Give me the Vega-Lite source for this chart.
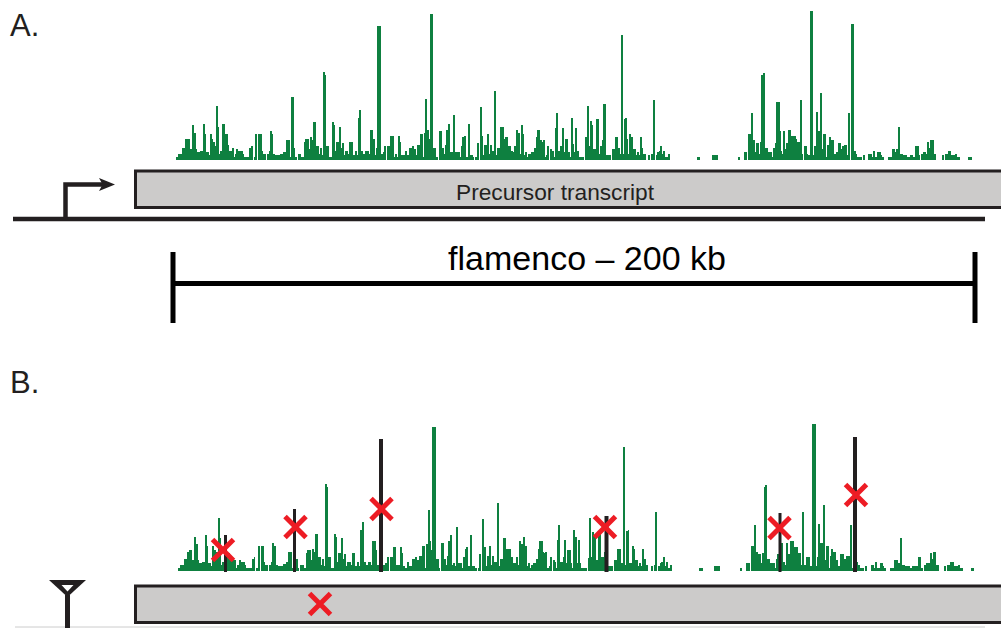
{"$schema":"https://vega.github.io/schema/vega-lite/v6.json","padding":0,"spacing":0,"background":"white","config":{"view":{"stroke":null},"concat":{"spacing":0}},
"datasets":{
"trackA":[{"a":176,"b":178,"s":3},{"a":178,"b":182,"s":6},{"a":182,"b":185,"s":12},{"a":185,"b":190,"s":21},{"a":190,"b":192,"s":11},{"a":192,"b":194,"s":35},{"a":194,"b":196,"s":27},{"a":196,"b":197,"s":11},{"a":197,"b":200,"s":8},{"a":200,"b":203,"s":9},{"a":203,"b":205,"s":36},{"a":205,"b":206,"s":26},{"a":206,"b":209,"s":8},{"a":209,"b":210,"s":5},{"a":210,"b":212,"s":26},{"a":212,"b":213,"s":21},{"a":213,"b":215,"s":18},{"a":215,"b":216,"s":14},{"a":216,"b":218,"s":54},{"a":218,"b":219,"s":33},{"a":219,"b":220,"s":6},{"a":220,"b":222,"s":9},{"a":222,"b":225,"s":36},{"a":225,"b":228,"s":26},{"a":228,"b":229,"s":15},{"a":229,"b":232,"s":9},{"a":232,"b":234,"s":12},{"a":234,"b":235,"s":3},{"a":235,"b":236,"s":6},{"a":236,"b":238,"s":11},{"a":238,"b":243,"s":9},{"a":243,"b":244,"s":6},{"a":244,"b":249,"s":3},{"a":249,"b":251,"s":12},{"a":251,"b":253,"s":14},{"a":254,"b":255,"s":3},{"a":255,"b":257,"s":26},{"a":258,"b":262,"s":26},{"a":262,"b":263,"s":9},{"a":263,"b":266,"s":6},{"a":267,"b":269,"s":6},{"a":269,"b":270,"s":9},{"a":270,"b":272,"s":29},{"a":272,"b":273,"s":26},{"a":273,"b":275,"s":6},{"a":275,"b":280,"s":5},{"a":280,"b":283,"s":6},{"a":283,"b":286,"s":8},{"a":286,"b":290,"s":20},{"a":290,"b":291,"s":3},{"a":291,"b":294,"s":63},{"a":294,"b":295,"s":12},{"a":295,"b":297,"s":3},{"a":298,"b":301,"s":6},{"a":301,"b":304,"s":3},{"a":304,"b":305,"s":18},{"a":305,"b":309,"s":21},{"a":309,"b":310,"s":11},{"a":310,"b":312,"s":23},{"a":312,"b":313,"s":20},{"a":313,"b":316,"s":38},{"a":316,"b":319,"s":14},{"a":319,"b":320,"s":6},{"a":320,"b":322,"s":12},{"a":322,"b":323,"s":5},{"a":323,"b":325,"s":88},{"a":325,"b":326,"s":85},{"a":326,"b":329,"s":14},{"a":329,"b":332,"s":3},{"a":332,"b":334,"s":38},{"a":334,"b":335,"s":35},{"a":335,"b":336,"s":9},{"a":336,"b":339,"s":18},{"a":339,"b":341,"s":33},{"a":341,"b":342,"s":12},{"a":342,"b":344,"s":17},{"a":344,"b":345,"s":5},{"a":345,"b":348,"s":9},{"a":348,"b":349,"s":6},{"a":349,"b":353,"s":18},{"a":353,"b":355,"s":5},{"a":355,"b":357,"s":9},{"a":357,"b":358,"s":5},{"a":358,"b":359,"s":42},{"a":359,"b":361,"s":50},{"a":361,"b":363,"s":9},{"a":363,"b":365,"s":6},{"a":365,"b":369,"s":9},{"a":369,"b":370,"s":6},{"a":370,"b":373,"s":30},{"a":373,"b":375,"s":21},{"a":375,"b":376,"s":5},{"a":376,"b":377,"s":12},{"a":377,"b":381,"s":134},{"a":381,"b":383,"s":6},{"a":383,"b":384,"s":8},{"a":384,"b":386,"s":14},{"a":387,"b":390,"s":14},{"a":390,"b":394,"s":24},{"a":394,"b":395,"s":3},{"a":395,"b":397,"s":6},{"a":397,"b":398,"s":3},{"a":398,"b":400,"s":24},{"a":400,"b":401,"s":18},{"a":401,"b":405,"s":5},{"a":405,"b":407,"s":9},{"a":407,"b":409,"s":5},{"a":409,"b":412,"s":12},{"a":412,"b":414,"s":14},{"a":414,"b":416,"s":11},{"a":416,"b":417,"s":5},{"a":417,"b":420,"s":15},{"a":420,"b":423,"s":26},{"a":423,"b":424,"s":3},{"a":424,"b":425,"s":27},{"a":425,"b":427,"s":61},{"a":427,"b":429,"s":30},{"a":429,"b":430,"s":21},{"a":430,"b":433,"s":146},{"a":433,"b":436,"s":12},{"a":436,"b":438,"s":3},{"a":439,"b":442,"s":29},{"a":442,"b":444,"s":12},{"a":444,"b":445,"s":6},{"a":445,"b":446,"s":15},{"a":446,"b":448,"s":30},{"a":448,"b":450,"s":36},{"a":450,"b":453,"s":8},{"a":453,"b":455,"s":45},{"a":455,"b":460,"s":8},{"a":460,"b":461,"s":3},{"a":461,"b":462,"s":14},{"a":462,"b":464,"s":23},{"a":464,"b":466,"s":24},{"a":466,"b":468,"s":3},{"a":468,"b":470,"s":36},{"a":470,"b":473,"s":5},{"a":473,"b":474,"s":3},{"a":475,"b":477,"s":3},{"a":477,"b":479,"s":17},{"a":480,"b":482,"s":53},{"a":482,"b":483,"s":24},{"a":483,"b":484,"s":5},{"a":484,"b":487,"s":15},{"a":487,"b":489,"s":26},{"a":489,"b":490,"s":6},{"a":490,"b":492,"s":15},{"a":492,"b":494,"s":9},{"a":494,"b":496,"s":69},{"a":496,"b":497,"s":5},{"a":497,"b":500,"s":12},{"a":500,"b":504,"s":33},{"a":504,"b":505,"s":21},{"a":505,"b":508,"s":23},{"a":508,"b":511,"s":14},{"a":511,"b":513,"s":9},{"a":513,"b":514,"s":8},{"a":514,"b":516,"s":14},{"a":516,"b":518,"s":30},{"a":518,"b":520,"s":27},{"a":520,"b":521,"s":6},{"a":521,"b":523,"s":35},{"a":523,"b":524,"s":26},{"a":524,"b":525,"s":5},{"a":525,"b":527,"s":8},{"a":527,"b":528,"s":3},{"a":528,"b":531,"s":6},{"a":531,"b":534,"s":8},{"a":534,"b":536,"s":12},{"a":536,"b":537,"s":23},{"a":537,"b":540,"s":30},{"a":540,"b":542,"s":20},{"a":542,"b":543,"s":18},{"a":543,"b":545,"s":20},{"a":545,"b":546,"s":3},{"a":546,"b":547,"s":5},{"a":547,"b":549,"s":14},{"a":550,"b":552,"s":11},{"a":552,"b":554,"s":9},{"a":554,"b":555,"s":3},{"a":555,"b":556,"s":32},{"a":556,"b":558,"s":47},{"a":558,"b":560,"s":9},{"a":560,"b":562,"s":14},{"a":562,"b":564,"s":32},{"a":564,"b":565,"s":8},{"a":565,"b":568,"s":21},{"a":568,"b":570,"s":8},{"a":570,"b":571,"s":3},{"a":571,"b":573,"s":42},{"a":573,"b":574,"s":16},{"a":574,"b":575,"s":8},{"a":575,"b":577,"s":32},{"a":577,"b":579,"s":9},{"a":579,"b":584,"s":3},{"a":585,"b":587,"s":23},{"a":587,"b":589,"s":54},{"a":589,"b":590,"s":14},{"a":590,"b":592,"s":39},{"a":592,"b":593,"s":35},{"a":593,"b":596,"s":11},{"a":596,"b":599,"s":41},{"a":599,"b":600,"s":6},{"a":600,"b":602,"s":14},{"a":602,"b":603,"s":20},{"a":603,"b":606,"s":56},{"a":606,"b":611,"s":5},{"a":612,"b":615,"s":11},{"a":615,"b":618,"s":23},{"a":618,"b":620,"s":12},{"a":620,"b":621,"s":6},{"a":621,"b":623,"s":125},{"a":623,"b":624,"s":6},{"a":624,"b":625,"s":41},{"a":625,"b":627,"s":42},{"a":627,"b":628,"s":21},{"a":628,"b":629,"s":6},{"a":629,"b":631,"s":26},{"a":631,"b":633,"s":23},{"a":633,"b":636,"s":11},{"a":636,"b":637,"s":5},{"a":637,"b":639,"s":8},{"a":639,"b":640,"s":5},{"a":640,"b":642,"s":23},{"a":642,"b":643,"s":12},{"a":643,"b":646,"s":6},{"a":648,"b":650,"s":5},{"a":651,"b":653,"s":6},{"a":653,"b":655,"s":60},{"a":656,"b":657,"s":5},{"a":657,"b":659,"s":8},{"a":659,"b":660,"s":9},{"a":660,"b":662,"s":14},{"a":662,"b":663,"s":6},{"a":663,"b":665,"s":9},{"a":665,"b":668,"s":3},{"a":668,"b":670,"s":6},{"a":697,"b":700,"s":3},{"a":712,"b":718,"s":5},{"a":738,"b":740,"s":3},{"a":744,"b":747,"s":8},{"a":748,"b":751,"s":26},{"a":751,"b":753,"s":47},{"a":753,"b":755,"s":20},{"a":755,"b":756,"s":8},{"a":756,"b":759,"s":17},{"a":759,"b":760,"s":6},{"a":760,"b":761,"s":18},{"a":761,"b":763,"s":85},{"a":763,"b":765,"s":87},{"a":765,"b":768,"s":12},{"a":768,"b":772,"s":8},{"a":772,"b":773,"s":3},{"a":773,"b":775,"s":12},{"a":775,"b":776,"s":17},{"a":776,"b":780,"s":58},{"a":780,"b":781,"s":29},{"a":781,"b":782,"s":9},{"a":782,"b":783,"s":6},{"a":783,"b":785,"s":29},{"a":785,"b":786,"s":11},{"a":786,"b":788,"s":17},{"a":788,"b":791,"s":30},{"a":791,"b":796,"s":24},{"a":796,"b":797,"s":21},{"a":797,"b":800,"s":18},{"a":800,"b":802,"s":60},{"a":802,"b":803,"s":6},{"a":804,"b":807,"s":14},{"a":807,"b":808,"s":6},{"a":808,"b":810,"s":5},{"a":810,"b":813,"s":149},{"a":813,"b":814,"s":5},{"a":814,"b":816,"s":14},{"a":816,"b":818,"s":48},{"a":818,"b":820,"s":29},{"a":820,"b":822,"s":67},{"a":822,"b":823,"s":11},{"a":823,"b":826,"s":26},{"a":826,"b":827,"s":3},{"a":827,"b":829,"s":15},{"a":829,"b":831,"s":23},{"a":831,"b":834,"s":20},{"a":834,"b":836,"s":6},{"a":836,"b":838,"s":8},{"a":838,"b":841,"s":17},{"a":841,"b":842,"s":11},{"a":842,"b":844,"s":14},{"a":844,"b":847,"s":15},{"a":847,"b":848,"s":5},{"a":848,"b":850,"s":47},{"a":851,"b":854,"s":136},{"a":854,"b":856,"s":9},{"a":856,"b":857,"s":6},{"a":857,"b":862,"s":3},{"a":863,"b":865,"s":5},{"a":868,"b":872,"s":6},{"a":872,"b":873,"s":3},{"a":873,"b":875,"s":9},{"a":875,"b":877,"s":3},{"a":877,"b":881,"s":8},{"a":881,"b":882,"s":5},{"a":882,"b":884,"s":3},{"a":888,"b":892,"s":3},{"a":892,"b":895,"s":11},{"a":895,"b":896,"s":8},{"a":896,"b":898,"s":11},{"a":898,"b":900,"s":33},{"a":900,"b":903,"s":6},{"a":903,"b":907,"s":5},{"a":907,"b":910,"s":3},{"a":910,"b":913,"s":5},{"a":913,"b":915,"s":3},{"a":915,"b":919,"s":14},{"a":919,"b":920,"s":5},{"a":921,"b":923,"s":6},{"a":923,"b":926,"s":8},{"a":926,"b":927,"s":6},{"a":927,"b":929,"s":18},{"a":929,"b":930,"s":12},{"a":930,"b":934,"s":20},{"a":934,"b":936,"s":6},{"a":942,"b":944,"s":5},{"a":945,"b":948,"s":6},{"a":948,"b":951,"s":9},{"a":951,"b":955,"s":5},{"a":955,"b":957,"s":6},{"a":957,"b":960,"s":3},{"a":968,"b":972,"s":3}],
"trackB":[{"a":178,"b":180,"s":3},{"a":180,"b":184,"s":6},{"a":184,"b":187,"s":12},{"a":187,"b":189,"s":19},{"a":189,"b":192,"s":21},{"a":192,"b":194,"s":11},{"a":194,"b":196,"s":34},{"a":196,"b":198,"s":27},{"a":198,"b":199,"s":11},{"a":199,"b":202,"s":8},{"a":202,"b":205,"s":9},{"a":205,"b":207,"s":36},{"a":207,"b":208,"s":25},{"a":208,"b":211,"s":8},{"a":211,"b":212,"s":5},{"a":212,"b":214,"s":25},{"a":214,"b":216,"s":21},{"a":216,"b":218,"s":19},{"a":218,"b":220,"s":53},{"a":220,"b":221,"s":33},{"a":221,"b":222,"s":6},{"a":222,"b":224,"s":9},{"a":224,"b":227,"s":30},{"a":227,"b":230,"s":18},{"a":230,"b":232,"s":12},{"a":232,"b":236,"s":11},{"a":236,"b":237,"s":3},{"a":237,"b":239,"s":6},{"a":239,"b":241,"s":11},{"a":241,"b":245,"s":9},{"a":245,"b":246,"s":6},{"a":246,"b":252,"s":3},{"a":252,"b":254,"s":12},{"a":254,"b":255,"s":14},{"a":256,"b":258,"s":3},{"a":258,"b":260,"s":25},{"a":261,"b":264,"s":25},{"a":264,"b":265,"s":9},{"a":265,"b":268,"s":6},{"a":269,"b":271,"s":6},{"a":271,"b":272,"s":9},{"a":272,"b":274,"s":28},{"a":274,"b":276,"s":25},{"a":276,"b":278,"s":6},{"a":278,"b":283,"s":5},{"a":283,"b":286,"s":7},{"a":286,"b":288,"s":9},{"a":288,"b":292,"s":19},{"a":292,"b":293,"s":3},{"a":293,"b":296,"s":60},{"a":296,"b":298,"s":12},{"a":298,"b":299,"s":3},{"a":300,"b":304,"s":6},{"a":304,"b":306,"s":3},{"a":306,"b":307,"s":18},{"a":307,"b":311,"s":21},{"a":311,"b":312,"s":11},{"a":312,"b":314,"s":22},{"a":314,"b":315,"s":19},{"a":315,"b":318,"s":37},{"a":318,"b":321,"s":14},{"a":321,"b":322,"s":6},{"a":322,"b":324,"s":12},{"a":324,"b":325,"s":5},{"a":325,"b":327,"s":87},{"a":327,"b":328,"s":84},{"a":328,"b":331,"s":14},{"a":331,"b":334,"s":3},{"a":334,"b":336,"s":37},{"a":336,"b":337,"s":34},{"a":337,"b":338,"s":9},{"a":338,"b":341,"s":18},{"a":341,"b":343,"s":33},{"a":343,"b":344,"s":12},{"a":344,"b":346,"s":17},{"a":346,"b":347,"s":5},{"a":347,"b":351,"s":9},{"a":351,"b":352,"s":6},{"a":352,"b":355,"s":18},{"a":355,"b":357,"s":5},{"a":357,"b":359,"s":9},{"a":359,"b":360,"s":5},{"a":360,"b":362,"s":41},{"a":362,"b":364,"s":49},{"a":364,"b":366,"s":9},{"a":366,"b":368,"s":6},{"a":368,"b":371,"s":9},{"a":371,"b":372,"s":6},{"a":372,"b":376,"s":30},{"a":376,"b":377,"s":21},{"a":377,"b":379,"s":6},{"a":379,"b":383,"s":12},{"a":383,"b":385,"s":6},{"a":385,"b":387,"s":8},{"a":387,"b":389,"s":14},{"a":390,"b":393,"s":14},{"a":393,"b":396,"s":24},{"a":396,"b":400,"s":6},{"a":400,"b":402,"s":24},{"a":402,"b":403,"s":18},{"a":403,"b":405,"s":5},{"a":405,"b":407,"s":3},{"a":407,"b":409,"s":9},{"a":409,"b":412,"s":5},{"a":412,"b":415,"s":12},{"a":415,"b":417,"s":14},{"a":417,"b":419,"s":11},{"a":419,"b":422,"s":15},{"a":422,"b":425,"s":25},{"a":425,"b":426,"s":3},{"a":426,"b":428,"s":27},{"a":428,"b":430,"s":61},{"a":430,"b":431,"s":30},{"a":431,"b":432,"s":21},{"a":432,"b":436,"s":144},{"a":436,"b":439,"s":12},{"a":439,"b":440,"s":3},{"a":441,"b":444,"s":28},{"a":444,"b":446,"s":12},{"a":446,"b":447,"s":6},{"a":447,"b":448,"s":15},{"a":448,"b":450,"s":30},{"a":450,"b":452,"s":36},{"a":452,"b":453,"s":6},{"a":453,"b":455,"s":8},{"a":455,"b":456,"s":5},{"a":456,"b":458,"s":44},{"a":458,"b":462,"s":8},{"a":462,"b":463,"s":3},{"a":463,"b":465,"s":14},{"a":465,"b":466,"s":22},{"a":466,"b":468,"s":24},{"a":468,"b":470,"s":5},{"a":470,"b":472,"s":36},{"a":472,"b":475,"s":5},{"a":475,"b":477,"s":3},{"a":478,"b":479,"s":3},{"a":479,"b":481,"s":17},{"a":482,"b":484,"s":52},{"a":484,"b":486,"s":24},{"a":486,"b":487,"s":5},{"a":487,"b":489,"s":15},{"a":489,"b":491,"s":25},{"a":491,"b":492,"s":6},{"a":492,"b":494,"s":15},{"a":494,"b":497,"s":9},{"a":497,"b":499,"s":68},{"a":499,"b":500,"s":5},{"a":500,"b":503,"s":12},{"a":503,"b":506,"s":33},{"a":506,"b":511,"s":22},{"a":511,"b":513,"s":14},{"a":513,"b":516,"s":8},{"a":516,"b":518,"s":14},{"a":518,"b":519,"s":6},{"a":519,"b":521,"s":30},{"a":521,"b":523,"s":27},{"a":523,"b":525,"s":34},{"a":525,"b":527,"s":25},{"a":527,"b":528,"s":5},{"a":528,"b":530,"s":8},{"a":530,"b":531,"s":3},{"a":531,"b":533,"s":6},{"a":533,"b":536,"s":8},{"a":536,"b":538,"s":12},{"a":538,"b":539,"s":22},{"a":539,"b":543,"s":30},{"a":543,"b":544,"s":19},{"a":544,"b":545,"s":18},{"a":545,"b":547,"s":19},{"a":547,"b":549,"s":3},{"a":549,"b":550,"s":5},{"a":550,"b":552,"s":14},{"a":553,"b":555,"s":11},{"a":555,"b":556,"s":9},{"a":556,"b":557,"s":3},{"a":557,"b":558,"s":31},{"a":558,"b":560,"s":46},{"a":560,"b":563,"s":9},{"a":563,"b":564,"s":14},{"a":564,"b":566,"s":31},{"a":566,"b":567,"s":8},{"a":567,"b":571,"s":21},{"a":571,"b":572,"s":8},{"a":572,"b":573,"s":3},{"a":573,"b":575,"s":41},{"a":575,"b":577,"s":34},{"a":577,"b":578,"s":8},{"a":578,"b":580,"s":31},{"a":580,"b":581,"s":8},{"a":581,"b":587,"s":3},{"a":588,"b":589,"s":13},{"a":589,"b":591,"s":53},{"a":591,"b":592,"s":14},{"a":592,"b":594,"s":39},{"a":594,"b":596,"s":34},{"a":596,"b":598,"s":11},{"a":598,"b":601,"s":39},{"a":601,"b":604,"s":14},{"a":604,"b":605,"s":19},{"a":605,"b":613,"s":5},{"a":614,"b":617,"s":11},{"a":617,"b":621,"s":22},{"a":621,"b":623,"s":8},{"a":623,"b":625,"s":124},{"a":625,"b":626,"s":6},{"a":626,"b":628,"s":40},{"a":628,"b":629,"s":41},{"a":629,"b":632,"s":8},{"a":632,"b":634,"s":25},{"a":634,"b":635,"s":22},{"a":635,"b":638,"s":11},{"a":638,"b":639,"s":5},{"a":639,"b":641,"s":8},{"a":641,"b":642,"s":5},{"a":642,"b":644,"s":22},{"a":644,"b":646,"s":12},{"a":646,"b":648,"s":6},{"a":651,"b":653,"s":5},{"a":654,"b":655,"s":6},{"a":655,"b":657,"s":59},{"a":658,"b":660,"s":5},{"a":660,"b":661,"s":8},{"a":661,"b":663,"s":9},{"a":663,"b":665,"s":14},{"a":665,"b":666,"s":5},{"a":666,"b":668,"s":9},{"a":668,"b":670,"s":3},{"a":670,"b":672,"s":6},{"a":699,"b":703,"s":3},{"a":714,"b":720,"s":5},{"a":740,"b":742,"s":3},{"a":746,"b":750,"s":8},{"a":751,"b":754,"s":25},{"a":754,"b":756,"s":46},{"a":756,"b":758,"s":19},{"a":758,"b":761,"s":17},{"a":761,"b":762,"s":8},{"a":762,"b":764,"s":18},{"a":764,"b":765,"s":84},{"a":765,"b":767,"s":86},{"a":767,"b":770,"s":12},{"a":770,"b":775,"s":8},{"a":775,"b":776,"s":3},{"a":776,"b":777,"s":12},{"a":777,"b":781,"s":17},{"a":781,"b":783,"s":28},{"a":783,"b":785,"s":9},{"a":785,"b":786,"s":6},{"a":786,"b":788,"s":28},{"a":788,"b":790,"s":17},{"a":790,"b":794,"s":30},{"a":794,"b":798,"s":24},{"a":798,"b":801,"s":18},{"a":801,"b":802,"s":6},{"a":802,"b":804,"s":59},{"a":804,"b":806,"s":6},{"a":806,"b":810,"s":14},{"a":810,"b":812,"s":5},{"a":812,"b":816,"s":147},{"a":816,"b":817,"s":5},{"a":817,"b":818,"s":14},{"a":818,"b":820,"s":47},{"a":820,"b":823,"s":28},{"a":823,"b":825,"s":66},{"a":825,"b":826,"s":11},{"a":826,"b":829,"s":25},{"a":829,"b":830,"s":3},{"a":830,"b":831,"s":15},{"a":831,"b":833,"s":22},{"a":833,"b":836,"s":19},{"a":836,"b":838,"s":11},{"a":838,"b":840,"s":5},{"a":840,"b":844,"s":17},{"a":844,"b":846,"s":12},{"a":846,"b":850,"s":15},{"a":850,"b":852,"s":46},{"a":852,"b":853,"s":3},{"a":853,"b":856,"s":5},{"a":856,"b":858,"s":9},{"a":858,"b":860,"s":6},{"a":860,"b":864,"s":3},{"a":865,"b":867,"s":5},{"a":871,"b":874,"s":6},{"a":874,"b":875,"s":3},{"a":875,"b":877,"s":9},{"a":877,"b":880,"s":3},{"a":880,"b":883,"s":8},{"a":883,"b":884,"s":5},{"a":884,"b":886,"s":3},{"a":890,"b":894,"s":3},{"a":894,"b":898,"s":11},{"a":898,"b":900,"s":8},{"a":900,"b":902,"s":33},{"a":902,"b":905,"s":6},{"a":905,"b":910,"s":5},{"a":910,"b":912,"s":3},{"a":912,"b":918,"s":5},{"a":918,"b":921,"s":14},{"a":921,"b":923,"s":3},{"a":924,"b":926,"s":6},{"a":926,"b":930,"s":8},{"a":930,"b":932,"s":18},{"a":932,"b":933,"s":12},{"a":933,"b":936,"s":19},{"a":936,"b":939,"s":6},{"a":944,"b":946,"s":5},{"a":947,"b":950,"s":6},{"a":950,"b":954,"s":9},{"a":954,"b":958,"s":5},{"a":958,"b":960,"s":6},{"a":960,"b":963,"s":3},{"a":971,"b":974,"s":3}]
},
"vconcat":[
{"width":1001,"height":340,"layer":[
{"data":{"name":"trackA"},"mark":{"type":"rect","fill":"#0e8040"},"encoding":{"x":{"field":"a","type":"quantitative","scale":{"domain":[0,1001],"nice":false,"zero":false},"axis":null},"x2":{"field":"b"},"y":{"field":"s","type":"quantitative","scale":{"domain":[-180,160],"nice":false,"zero":false},"axis":null},"y2":{"datum":0}}},
{"data":{"values":[{"a":135.5,"b":1003,"top":-11,"bot":-47.5}]},"mark":{"type":"rect","fill":"#cccbca","stroke":"#231f20","strokeWidth":3},"encoding":{"x":{"field":"a","type":"quantitative"},"x2":{"field":"b"},"y":{"field":"top","type":"quantitative"},"y2":{"field":"bot"}}},
{"data":{"values":[{"id":"dna","o":1,"x":13,"v":-59},{"id":"dna","o":2,"x":985,"v":-59},{"id":"tss","o":1,"x":65.5,"v":-59},{"id":"tss","o":2,"x":65.5,"v":-24.5},{"id":"tss","o":3,"x":103,"v":-24.5}]},"mark":{"type":"line","stroke":"#231f20","strokeWidth":4.5,"strokeCap":"butt","strokeJoin":"miter"},"encoding":{"x":{"field":"x","type":"quantitative"},"y":{"field":"v","type":"quantitative"},"detail":{"field":"id"},"order":{"field":"o"}}},
{"data":{"values":[{"x":107,"v":-24.5}]},"mark":{"type":"point","shape":"M-1,-0.82L1,0L-1,0.82L-0.55,0Z","size":256,"filled":true,"fill":"#231f20","stroke":null,"opacity":1},"encoding":{"x":{"field":"x","type":"quantitative"},"y":{"field":"v","type":"quantitative"}}},
{"data":{"values":[{"id":"span","o":1,"x":173,"v":-123.5},{"id":"span","o":2,"x":975,"v":-123.5},{"id":"start","o":1,"x":173,"v":-92},{"id":"start","o":2,"x":173,"v":-163},{"id":"end","o":1,"x":975,"v":-92},{"id":"end","o":2,"x":975,"v":-163}]},"mark":{"type":"line","stroke":"#000000","strokeWidth":5,"strokeCap":"butt"},"encoding":{"x":{"field":"x","type":"quantitative"},"y":{"field":"v","type":"quantitative"},"detail":{"field":"id"},"order":{"field":"o"}}},
{"data":{"values":[{"x":10,"v":124,"t":"A."}]},"mark":{"type":"text","align":"left","baseline":"alphabetic","font":"Liberation Sans","fontSize":31,"fill":"#231f20"},"encoding":{"x":{"field":"x","type":"quantitative"},"y":{"field":"v","type":"quantitative"},"text":{"field":"t"}}},
{"data":{"values":[{"x":555,"v":-39.5,"t":"Precursor transcript"}]},"mark":{"type":"text","align":"center","baseline":"alphabetic","font":"Liberation Sans","fontSize":22.7,"fill":"#231f20"},"encoding":{"x":{"field":"x","type":"quantitative"},"y":{"field":"v","type":"quantitative"},"text":{"field":"t"}}},
{"data":{"values":[{"x":587,"v":-110,"t":"flamenco – 200 kb"}]},"mark":{"type":"text","align":"center","baseline":"alphabetic","font":"Liberation Sans","fontSize":34,"fill":"#000000"},"encoding":{"x":{"field":"x","type":"quantitative"},"y":{"field":"v","type":"quantitative"},"text":{"field":"t"}}}
]},
{"width":1001,"height":288,"layer":[
{"data":{"name":"trackB"},"mark":{"type":"rect","fill":"#0e8040"},"encoding":{"x":{"field":"a","type":"quantitative","scale":{"domain":[0,1001],"nice":false,"zero":false},"axis":null},"x2":{"field":"b"},"y":{"field":"s","type":"quantitative","scale":{"domain":[-57,231],"nice":false,"zero":false},"axis":null},"y2":{"datum":0}}},
{"data":{"values":[{"x":225.5,"s":36},{"x":294.5,"s":62},{"x":780,"s":58}]},"mark":{"type":"rule","stroke":"#231f20","strokeWidth":3},"encoding":{"x":{"field":"x","type":"quantitative"},"y":{"field":"s","type":"quantitative"},"y2":{"datum":-1}}},
{"data":{"values":[{"x":381,"s":132},{"x":606.5,"s":55},{"x":855,"s":134}]},"mark":{"type":"rule","stroke":"#231f20","strokeWidth":4},"encoding":{"x":{"field":"x","type":"quantitative"},"y":{"field":"s","type":"quantitative"},"y2":{"datum":-1}}},
{"data":{"values":[{"x1":15,"x2":985,"v":-56}]},"mark":{"type":"rule","stroke":"#cccccc","strokeWidth":1},"encoding":{"x":{"field":"x1","type":"quantitative"},"x2":{"field":"x2"},"y":{"field":"v","type":"quantitative"}}},
{"data":{"values":[{"a":135.5,"b":1003,"top":-15,"bot":-51.5}]},"mark":{"type":"rect","fill":"#cccbca","stroke":"#231f20","strokeWidth":3},"encoding":{"x":{"field":"a","type":"quantitative"},"x2":{"field":"b"},"y":{"field":"top","type":"quantitative"},"y2":{"field":"bot"}}},
{"data":{"values":[{"id":"stem","o":1,"x":67.5,"v":-24},{"id":"stem","o":2,"x":67.5,"v":-57}]},"mark":{"type":"line","stroke":"#231f20","strokeWidth":5,"strokeCap":"butt","strokeJoin":"miter"},"encoding":{"x":{"field":"x","type":"quantitative"},"y":{"field":"v","type":"quantitative"},"detail":{"field":"id"},"order":{"field":"o"}}},
{"data":{"values":[{"x":67.5,"v":-17.5}]},"mark":{"type":"point","shape":"M-1,-0.46L1,-0.46L0,0.46Z","size":1369,"filled":true,"fill":"#231f20","stroke":null,"opacity":1},"encoding":{"x":{"field":"x","type":"quantitative"},"y":{"field":"v","type":"quantitative"}}},
{"data":{"values":[{"x":67.5,"v":-17.3}]},"mark":{"type":"point","shape":"M-1,-0.54L1,-0.54L0,0.54Z","size":144,"filled":true,"fill":"#ffffff","stroke":null,"opacity":1},"encoding":{"x":{"field":"x","type":"quantitative"},"y":{"field":"v","type":"quantitative"}}},
{"data":{"values":[{"x":223,"v":21},{"x":295.5,"v":44},{"x":381.5,"v":62},{"x":605,"v":44},{"x":779.5,"v":43},{"x":856,"v":76},{"x":320,"v":-33}]},"mark":{"type":"point","shape":"M-1,-1L1,1M1,-1L-1,1","size":440,"filled":false,"stroke":"#ed1c24","strokeWidth":5,"opacity":1},"encoding":{"x":{"field":"x","type":"quantitative"},"y":{"field":"v","type":"quantitative"}}},
{"data":{"values":[{"x":10,"v":178,"t":"B."}]},"mark":{"type":"text","align":"left","baseline":"alphabetic","font":"Liberation Sans","fontSize":31,"fill":"#231f20"},"encoding":{"x":{"field":"x","type":"quantitative"},"y":{"field":"v","type":"quantitative"},"text":{"field":"t"}}}
]}
]}
